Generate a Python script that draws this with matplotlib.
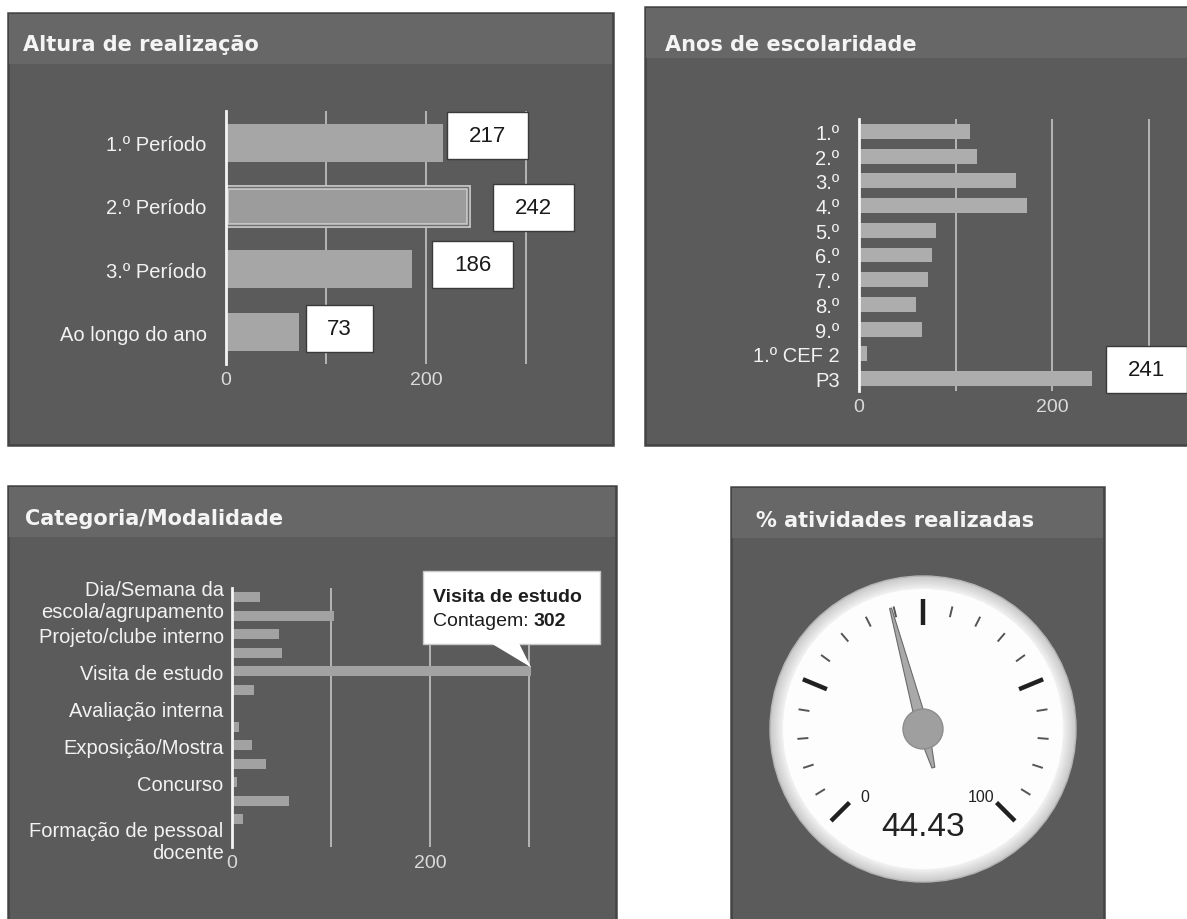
import numpy as np
import matplotlib
matplotlib.use('Agg')
import matplotlib.pyplot as plt
from matplotlib.patches import Rectangle, Circle, Polygon

plt.rcParams['font.family'] = ['Liberation Sans', 'DejaVu Sans']

periodos = ['1.º Período', '2.º Período', '3.º Período', 'Ao longo do ano']
periodos_n = [217, 242, 186, 73]

anos = ['1.º', '2.º', '3.º', '4.º', '5.º', '6.º', '7.º', '8.º', '9.º', '1.º CEF 2', 'P3']
anos_n = [115, 122, 163, 174, 80, 76, 72, 59, 65, 8, 241]

# so metade das etiquetas aparece no grafico original
categorias = ['Dia/Semana da\nescola/agrupamento', '', 'Projeto/clube interno', '',
              'Visita de estudo', '', 'Avaliação interna', '', 'Exposição/Mostra', '',
              'Concurso', '', '', 'Formação de pessoal\ndocente']
categorias_n = [28, 103, 47, 50, 302, 22, 0, 7, 20, 34, 5, 58, 11, 0]

realizadas = 44.43
gauge_min, gauge_max = 0, 100

W, H = 1187, 920
BODY = '#5b5b5b'
BAND = '#676767'
EDGE = '#444444'
BAR = '#a6a6a6'
GRID = '#bcbcbc'
LABEL = '#f2f2f2'
TICK = '#dadada'

fig = plt.figure(figsize=(W / 100, H / 100), dpi=100)
fig.patch.set_facecolor('white')


def px_rect(x0, y0, x1, y1):
    return [x0 / W, 1 - y1 / H, (x1 - x0) / W, (y1 - y0) / H]


bg = fig.add_axes([0, 0, 1, 1], zorder=0)
bg.set_xlim(0, W)
bg.set_ylim(H, 0)
bg.axis('off')

fg = fig.add_axes([0, 0, 1, 1], zorder=6)
fg.set_xlim(0, W)
fg.set_ylim(H, 0)
fg.axis('off')

panels = [
    (8, 14, 613, 446, 'Altura de realização', 23, 51),
    (645, 8, 1192, 446, 'Anos de escolaridade', 665, 51),
    (8, 487, 616, 925, 'Categoria/Modalidade', 25, 525),
    (731, 488, 1104, 925, '% atividades realizadas', 756, 527),
]
for x0, y0, x1, y1, title, tx, ty in panels:
    bg.add_patch(Rectangle((x0, y0), x1 - x0, y1 - y0, fc=BODY, ec=EDGE, lw=1.8))
    bg.add_patch(Rectangle((x0 + 1, y0 + 1), x1 - x0 - 2, 50, fc=BAND, ec='none'))
    bg.text(tx, ty, title, color='#f4f4f4', fontsize=15, fontweight='bold',
            family='DejaVu Sans', va='baseline', ha='left')


def bar_panel(zero, top, bottom, scale, xmax, labels, values, bar_h, bar_color, ypad):
    ax = fig.add_axes(px_rect(zero, top, zero + xmax * scale, bottom), zorder=2)
    ax.set_facecolor('none')
    n = len(values)
    ax.set_xlim(0, xmax)
    ax.set_ylim(n - 0.5, -0.5)
    for g in (100, 200, 300):
        ax.axvline(g, color=GRID, lw=1.3, zorder=1)
    bars = ax.barh(range(n), values, height=bar_h, color=bar_color, zorder=2)
    for s in ('top', 'right', 'bottom'):
        ax.spines[s].set_visible(False)
    ax.spines['left'].set_color('#f4f4f4')
    ax.spines['left'].set_linewidth(2)
    ax.spines['left'].set_zorder(3)
    ax.set_yticks(range(n))
    ax.set_yticklabels(labels, color=LABEL, fontsize=14.5)
    ax.set_xticks([0, 200])
    ax.tick_params(axis='y', length=0, pad=ypad)
    ax.tick_params(axis='x', length=0, pad=5, labelcolor=TICK, labelsize=14)
    return ax, bars


def to_px(ax, x, y):
    dx, dy = ax.transData.transform((x, y))
    return dx, H - dy


def value_box(ax, i, v, offx, offy):
    x, y = to_px(ax, v, i)
    txt = str(v)
    w = 39 + 14 * len(txt)
    h = 47
    cx, cy = x + offx + w / 2, y + offy
    fg.add_patch(Rectangle((x + offx, cy - h / 2), w, h, fc='white', ec='#3a3a3a', lw=1))
    fg.text(cx, cy, txt, fontsize=16, color='#1a1a1a', ha='center', va='center')


# Altura de realizacao
ax1, bars1 = bar_panel(226, 112, 365, 1.0, 340, periodos, periodos_n, 0.6, BAR, 14)
# barra seleccionada (2.º Periodo) tem contorno
sel = bars1[1]
sel.set_facecolor('#9c9c9c')
sel.set_edgecolor('#c6c6c6')
sel.set_linewidth(3.5)
ax1.barh(1, periodos_n[1], height=0.6, fc='none', ec='#6e6e6e', lw=1, zorder=3)
for i, (off_x, off_y) in enumerate([(4, -7), (25, 2), (20, -5), (7, -4)]):
    value_box(ax1, i, periodos_n[i], off_x, off_y)

# Anos de escolaridade
ax2, bars2 = bar_panel(859, 120, 392, 0.965, 340, anos, anos_n, 0.6, '#adadad', 14)
value_box(ax2, len(anos) - 1, anos_n[-1], 14, -9)

# Categoria/Modalidade
ax3, bars3 = bar_panel(232, 589, 848, 0.99, 330, categorias, categorias_n, 0.55, '#a2a2a2', 6)

# tooltip sobre a barra maior
k = int(np.argmax(categorias_n))
tx, ty = to_px(ax3, categorias_n[k], k)
box_l, box_r, box_t, box_b = tx - 108, tx + 69, ty - 100, ty - 27
fg.add_patch(Rectangle((box_l, box_t), box_r - box_l, box_b - box_t,
                       fc='white', ec='#c8c8c8', lw=1))
fg.add_patch(Polygon([(tx - 40, box_b - 1), (tx - 12, box_b - 1), (tx, ty - 4)],
                     closed=True, fc='white', ec='none'))
name = categorias[k]
fg.text(box_l + 10, box_t + 25, name, fontsize=14, fontweight='bold',
        color='#1e1e1e', va='center', ha='left')
t1 = fg.text(box_l + 10, box_t + 49, 'Contagem: ', fontsize=14,
             color='#1e1e1e', va='center', ha='left')
fg.annotate(str(categorias_n[k]), xy=(1, 0.5), xycoords=t1, fontsize=14,
            fontweight='bold', color='#1e1e1e', va='center', ha='left')

# % atividades realizadas (mostrador)
gx = fig.add_axes(px_rect(923 - 170, 730 - 170, 923 + 170, 730 + 170), zorder=3)
gx.set_xlim(-170, 170)
gx.set_ylim(-170, 170)
gx.axis('off')

gx.add_patch(Circle((0, 0), 153, fc='#cbcbcb', ec='#b4b4b4', lw=1))
for r, c in zip(np.linspace(151, 141, 6), np.linspace(0.82, 0.95, 6)):
    gx.add_patch(Circle((0, 0), r, fc=str(c), ec='none'))
gx.add_patch(Circle((0, 0), 140, fc='#fdfdfd', ec='none'))


def ang(v):
    return np.radians(225 - 270 * (v - gauge_min) / (gauge_max - gauge_min))


for v in range(gauge_min, gauge_max + 1, 5):
    a = ang(v)
    if v % 25 == 0:
        r0, r1, lw, c = 104, 130, 3.2, '#202020'
    else:
        r0, r1, lw, c = 115, 126, 1.4, '#555555'
    gx.plot([r0 * np.cos(a), r1 * np.cos(a)], [r0 * np.sin(a), r1 * np.sin(a)],
            color=c, lw=lw, solid_capstyle='butt')

for v, da in ((gauge_min, 4), (gauge_max, -4)):
    a = ang(v) + np.radians(da)
    gx.text(89 * np.cos(a), 89 * np.sin(a), str(v), fontsize=11.5,
            color='#222222', ha='center', va='center')

a = ang(realizadas)
ux, uy = np.cos(a), np.sin(a)
px_, py_ = -uy, ux
needle = [(125 * ux + 1 * px_, 125 * uy + 1 * py_),
          (6 * px_, 6 * py_),
          (-40 * ux + 1.5 * px_, -40 * uy + 1.5 * py_),
          (-40 * ux - 1.5 * px_, -40 * uy - 1.5 * py_),
          (-6 * px_, -6 * py_),
          (125 * ux - 1 * px_, 125 * uy - 1 * py_)]
gx.add_patch(Polygon(needle, closed=True, fc='#a9a9a9', ec='#6a6a6a', lw=0.8, zorder=4))
gx.add_patch(Circle((0, 0), 20, fc='#9f9f9f', ec='#8c8c8c', lw=1, zorder=5))
gx.text(0, -98, f'{realizadas:.2f}', fontsize=24, color='#222222',
        ha='center', va='center')

fig.savefig('out.png', dpi=100, facecolor='white')
